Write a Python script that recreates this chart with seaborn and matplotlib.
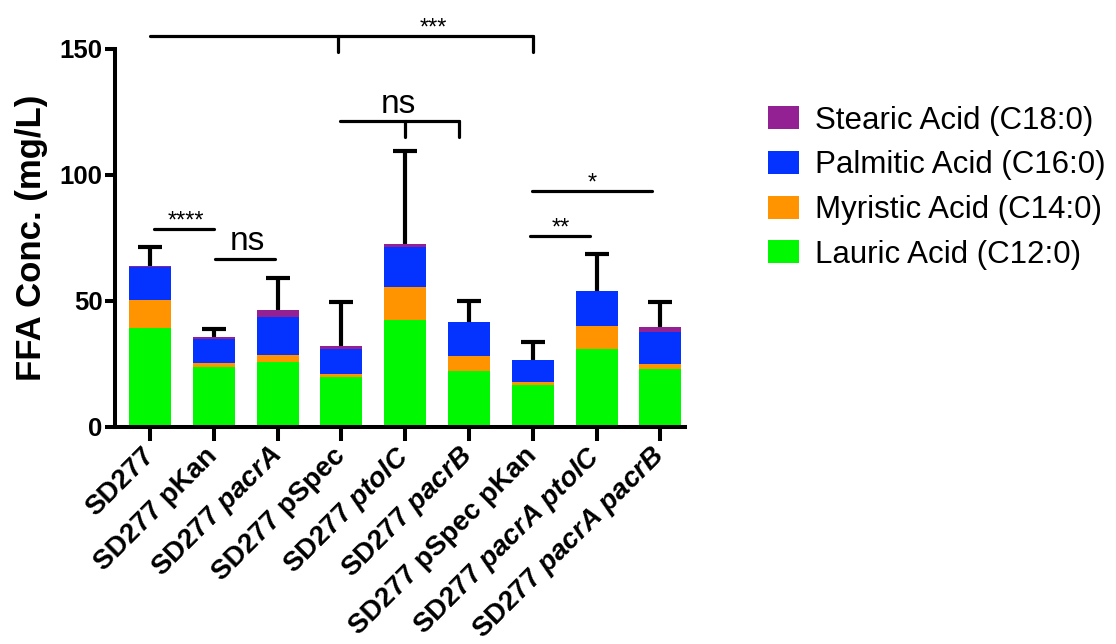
import matplotlib
matplotlib.use("Agg")
import matplotlib.pyplot as plt
import seaborn as sns
import numpy as np
import pandas as pd
from matplotlib.patches import Patch

# ---- data ----
categories = ["SD277", "SD277 pKan", "SD277 pacrA", "SD277 pSpec", "SD277 ptolC",
              "SD277 pacrB", "SD277 pSpec pKan", "SD277 pacrA ptolC", "SD277 pacrA pacrB"]
tick_labels = ["SD277", "SD277 pKan", "SD277 $\\mathit{pacrA}$", "SD277 pSpec",
               "SD277 $\\mathit{ptolC}$", "SD277 $\\mathit{pacrB}$", "SD277 pSpec pKan",
               "SD277 $\\mathit{pacrA}$ $\\mathit{ptolC}$", "SD277 $\\mathit{pacrA}$ $\\mathit{pacrB}$"]
lauric = [39.4, 23.7, 25.9, 19.7, 42.6, 22.2, 16.7, 31.0, 23.0]
myristic = [11.0, 1.8, 2.7, 1.3, 13.0, 6.0, 1.2, 9.2, 2.1]
palmitic = [13.2, 9.4, 15.2, 10.0, 15.8, 13.5, 8.7, 13.8, 12.7]
stearic = [0.4, 0.8, 2.6, 1.1, 1.2, 0.0, 0.0, 0.0, 2.0]
sd_total = [7.5, 3.2, 12.6, 17.6, 36.9, 8.3, 7.3, 14.8, 9.8]

series_names = ["Lauric Acid (C12:0)", "Myristic Acid (C14:0)",
                "Palmitic Acid (C16:0)", "Stearic Acid (C18:0)"]
colors = ["#00F800", "#FF9300", "#0433FF", "#942193"]

# significance annotations: (x_start, x_end, y, label, drop ticks)
sig_brackets = [
    (0, 6, 155.2, "***", [2.95, 6]),
    (2.98, 4.85, 121.4, "ns", [4.0, 4.85]),
    (0.06, 1.0, 78.7, "****", []),
    (1.02, 1.96, 66.8, "ns", []),
    (5.96, 6.89, 75.8, "**", []),
    (5.99, 7.87, 93.8, "*", []),
]
sig_text_x = [4.44, 3.89, 0.56, 1.52, 6.44, 6.93]

# ---- style ----
sns.set_style("ticks")
plt.rcParams['font.family'] = ['Liberation Sans', 'DejaVu Sans']
plt.rcParams['mathtext.fontset'] = 'custom'
plt.rcParams['mathtext.rm'] = 'Liberation Sans:bold'
plt.rcParams['mathtext.it'] = 'Liberation Sans:italic:bold'
plt.rcParams['mathtext.bf'] = 'Liberation Sans:bold'
for k in ['text.color', 'axes.labelcolor', 'xtick.color', 'ytick.color', 'axes.edgecolor']:
    plt.rcParams[k] = 'black'

fig = plt.figure(figsize=(11.16, 6.44), dpi=100)
ax = fig.add_axes([0.103, 0.337, 0.511, 0.587])

cum = np.cumsum(np.array([lauric, myristic, palmitic, stearic]), axis=0)

# draw from tallest (cumulative) to shortest
for i in [3, 2, 1, 0]:
    sns.barplot(x=categories, y=cum[i], color=colors[i], saturation=1,
                width=0.66, ax=ax, errorbar=None, linewidth=0, zorder=2)

totals = cum[3]
eb = ax.errorbar(np.arange(len(categories)), totals,
                 yerr=[np.zeros(len(categories)), sd_total], fmt='none',
                 ecolor='black', elinewidth=3, capsize=8.5, capthick=3, zorder=1)
# keep only the upper caps
if len(eb[1]) == 2:
    eb[1][0].set_visible(False)

ax.set_ylim(0, 150)
ax.set_xlim(-0.55, 8.39)
ax.set_yticks([0, 50, 100, 150])
ax.set_yticklabels(["0", "50", "100", "150"], fontsize=18.5, fontweight='bold')
ax.set_xticks(np.arange(len(categories)))
ax.set_xticklabels(tick_labels, rotation=45, ha='right', va='center',
                   rotation_mode='anchor', fontsize=20, fontweight='bold')
ax.set_ylabel("FFA Conc. (mg/L)", fontsize=25, fontweight='bold', labelpad=8)
ax.set_xlabel("")

for s in ["top", "right"]:
    ax.spines[s].set_visible(False)
for s in ["left", "bottom"]:
    ax.spines[s].set_linewidth(2.9)
ax.tick_params(axis='y', direction='out', length=7, width=2.9, pad=2)
ax.tick_params(axis='x', direction='out', length=10, width=2.9, pad=8)

# significance brackets
for (x0, x1, y, lab, drops), tx in zip(sig_brackets, sig_text_x):
    ax.plot([x0, x1], [y, y], color='black', lw=2.3, solid_capstyle='round',
            clip_on=False, zorder=5)
    for d in drops:
        ax.plot([d, d], [y, y - 6.5], color='black', lw=2.3,
                solid_capstyle='round', clip_on=False, zorder=5)
    if lab == "ns":
        ax.text(tx, y + 0.6, lab, ha='center', va='bottom', fontsize=24,
                clip_on=False)
    else:
        ax.text(tx, y - 1.6, lab, ha='center', va='bottom', fontsize=17,
                clip_on=False)

handles = [Patch(facecolor=colors[i], edgecolor='none', label=series_names[i])
           for i in [3, 2, 1, 0]]
fig.legend(handles=handles, loc='upper left', bbox_to_anchor=(0.688, 0.836),
           frameon=False, fontsize=22.5, handlelength=1.0, handleheight=0.75,
           handletextpad=0.52, labelspacing=0.47, borderpad=0, borderaxespad=0)

fig.savefig("out.png", dpi=100)
